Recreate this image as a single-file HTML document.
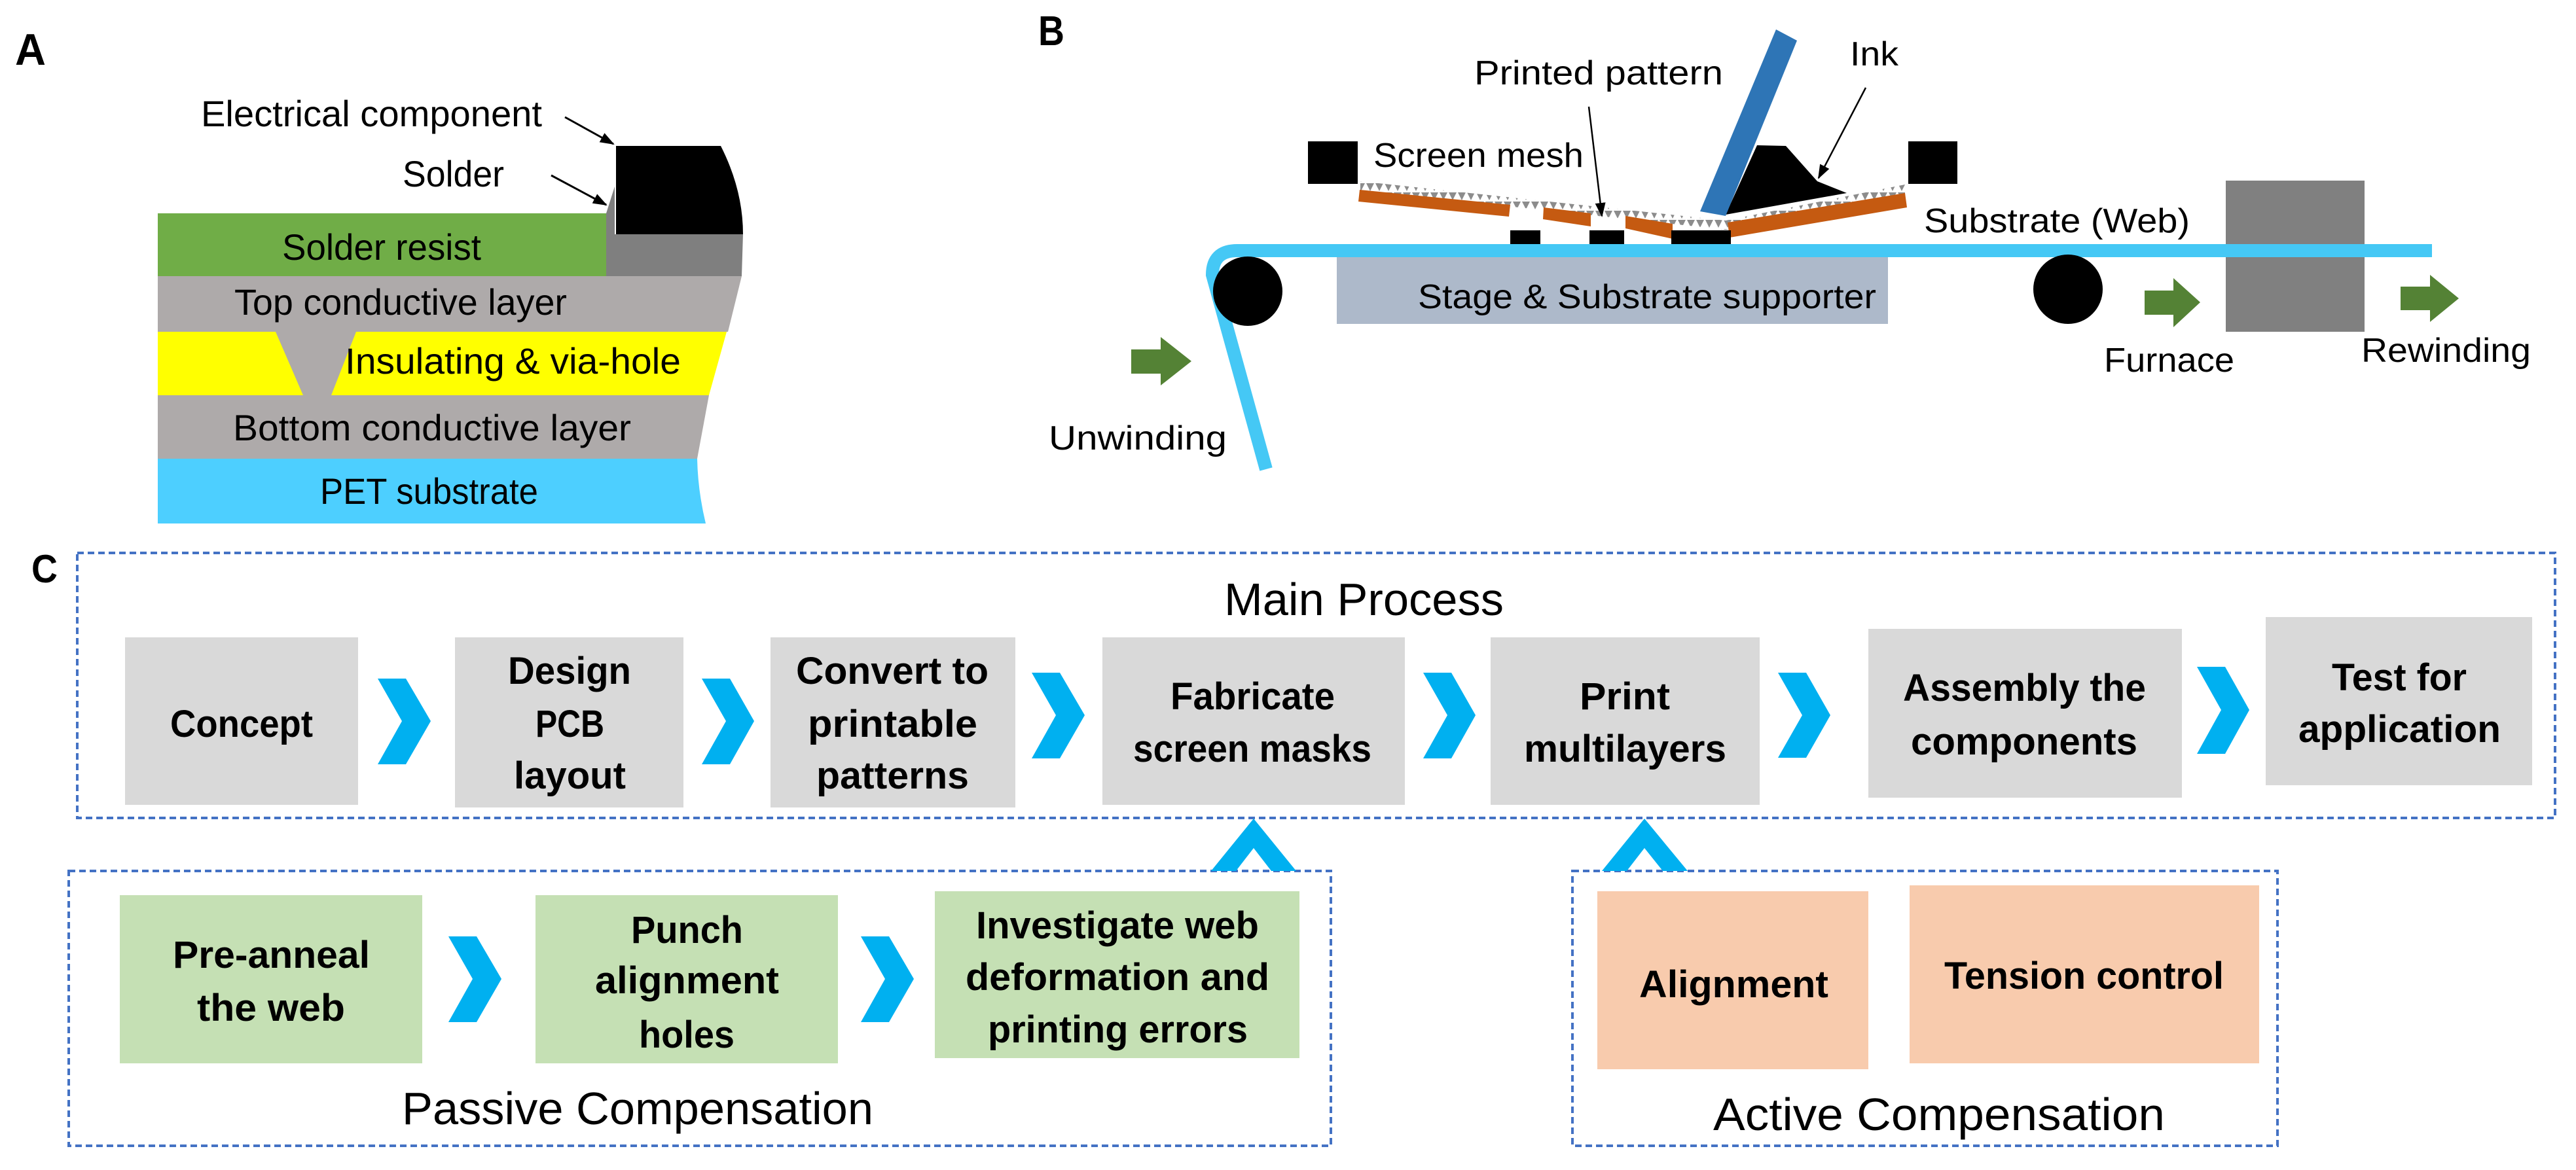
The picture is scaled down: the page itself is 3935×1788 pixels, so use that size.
<!DOCTYPE html>
<html><head><meta charset="utf-8"><style>html,body{margin:0;padding:0;background:#fff}svg{display:block}text{font-family:"Liberation Sans",sans-serif}</style></head><body>
<svg width="3935" height="1788" viewBox="0 0 3935 1788" xmlns="http://www.w3.org/2000/svg">
<defs>
<marker id="ah2" markerWidth="22" markerHeight="22" refX="20" refY="11" orient="auto" markerUnits="userSpaceOnUse"><path d="M0,3 L22,11 L0,19 Z" fill="#000"/></marker>
<pattern id="mesh" x="0" y="0" width="14" height="14" patternUnits="userSpaceOnUse"><path d="M1,0 L13,0 L7,12 Z" fill="#8c8c8c"/></pattern>
</defs>
<rect width="3935" height="1788" fill="#fff"/>

<g lengthAdjust="spacingAndGlyphs">
<!-- Panel A -->
<text x="23" y="99" font-size="68" font-weight="bold" textLength="47" lengthAdjust="spacingAndGlyphs">A</text>
<polygon points="241,326 926,326 926,422 241,422" fill="#70ad47"/>
<polygon points="926,422 926,326 939,285 939,358 1135,358 1133,422" fill="#7f7f7f"/>
<path d="M941,223 L1101,223 Q1135,290 1135,358 L941,358 Z" fill="#000"/>
<polygon points="241,422 1133,422 1112,507 241,507" fill="#aeaaaa"/>
<polygon points="241,507 1110,507 1083,604 241,604" fill="#ffff00"/>
<polygon points="421,507 544,507 506,604 463,604" fill="#aeaaaa"/>
<polygon points="241,604 1083,604 1065,701 241,701" fill="#aeaaaa"/>
<path d="M241,701 L1065,701 Q1066,750 1078,800 L241,800 Z" fill="#4dcfff"/>
<text x="307" y="193" font-size="56" textLength="521" lengthAdjust="spacingAndGlyphs">Electrical component</text>
<text x="615" y="285" font-size="56" textLength="155" lengthAdjust="spacingAndGlyphs">Solder</text>
<line x1="863" y1="179" x2="937" y2="220" stroke="#000" stroke-width="3" marker-end="url(#ah2)"/>
<line x1="842" y1="268" x2="926" y2="313" stroke="#000" stroke-width="3" marker-end="url(#ah2)"/>
<text x="431" y="397" font-size="56" textLength="304" lengthAdjust="spacingAndGlyphs">Solder resist</text>
<text x="358" y="481" font-size="56" textLength="508" lengthAdjust="spacingAndGlyphs">Top conductive layer</text>
<text x="527" y="571" font-size="56" textLength="513" lengthAdjust="spacingAndGlyphs">Insulating &amp; via-hole</text>
<text x="356" y="673" font-size="56" textLength="608" lengthAdjust="spacingAndGlyphs">Bottom conductive layer</text>
<text x="489" y="770" font-size="56" textLength="333" lengthAdjust="spacingAndGlyphs">PET substrate</text>

<!-- Panel B -->
<text x="1586" y="69" font-size="64" font-weight="bold" textLength="40" lengthAdjust="spacingAndGlyphs">B</text>
<rect x="2042" y="393" width="842" height="102" fill="#adb9ca"/>
<text x="2166" y="471" font-size="52" textLength="700" lengthAdjust="spacingAndGlyphs">Stage &amp; Substrate supporter</text>
<rect x="3400" y="276" width="212" height="231" fill="#808080"/>
<path d="M3715,383 L1890,383 Q1852,383 1852,420 L1934,717" fill="none" stroke="#45c8f5" stroke-width="20"/>
<circle cx="1906" cy="445" r="53" fill="#000"/>
<circle cx="3159" cy="442" r="53" fill="#000"/>
<polygon points="3276,444 3320,444 3320,425 3361,462 3320,500 3320,481 3276,481" fill="#548235"/>
<polygon points="3667,438 3712,438 3712,420 3756,456 3712,492 3712,474 3667,474" fill="#548235"/>
<polygon points="1728,534 1773,534 1773,515 1820,552 1773,589 1773,571 1728,571" fill="#548235"/>
<rect x="1998" y="216" width="76" height="65" fill="#000"/>
<rect x="2915" y="216" width="75" height="65" fill="#000"/>
<polygon points="2078,277 2636,337 2910,282 2910,296 2636,351 2078,291" fill="url(#mesh)"/>
<polygon points="2077,290 2307,313 2305,331 2075,308" fill="#c55a11"/>
<polygon points="2358,317 2430,326 2430,346 2357,335" fill="#c55a11"/>
<polygon points="2483,330 2555,342 2555,365 2483,349" fill="#c55a11"/>
<polygon points="2639,340 2910,295 2913,317 2642,363" fill="#c55a11"/>
<rect x="2307" y="352" width="46" height="21" fill="#000"/>
<rect x="2428" y="352" width="53" height="21" fill="#000"/>
<rect x="2553" y="352" width="91" height="21" fill="#000"/>
<polygon points="2684,222 2728,223 2776,277 2821,295 2636,328" fill="#000"/>
<polygon points="2713,45 2745,62 2636,330 2597,323" fill="#2e75b6"/>
<line x1="2427" y1="163" x2="2447" y2="330" stroke="#000" stroke-width="2.5" marker-end="url(#ah2)"/>
<line x1="2850" y1="134" x2="2778" y2="272" stroke="#000" stroke-width="2.5" marker-end="url(#ah2)"/>
<text x="2252" y="129" font-size="52" textLength="380" lengthAdjust="spacingAndGlyphs">Printed pattern</text>
<text x="2826" y="100" font-size="52" textLength="74" lengthAdjust="spacingAndGlyphs">Ink</text>
<text x="2098" y="255" font-size="52" textLength="321" lengthAdjust="spacingAndGlyphs">Screen mesh</text>
<text x="2939" y="355" font-size="52" textLength="406" lengthAdjust="spacingAndGlyphs">Substrate (Web)</text>
<text x="3214" y="568" font-size="52" textLength="199" lengthAdjust="spacingAndGlyphs">Furnace</text>
<text x="3607" y="553" font-size="52" textLength="259" lengthAdjust="spacingAndGlyphs">Rewinding</text>
<text x="1602" y="687" font-size="52" textLength="272" lengthAdjust="spacingAndGlyphs">Unwinding</text>
</g>

<!-- Panel C -->
<text x="48" y="890" font-size="60" font-weight="bold" textLength="40" lengthAdjust="spacingAndGlyphs">C</text>
<g fill="none" stroke="#4472c4" stroke-width="4" stroke-dasharray="10,6">
<rect x="118" y="845" width="3785" height="405"/>
<rect x="105" y="1331" width="1928" height="420"/>
<rect x="2402" y="1331" width="1077" height="420"/>
</g>
<text x="1870" y="940" font-size="70" textLength="427" lengthAdjust="spacingAndGlyphs">Main Process</text>
<g fill="#d9d9d9">
<rect x="191" y="974" width="356" height="256"/>
<rect x="695" y="974" width="349" height="260"/>
<rect x="1177" y="974" width="374" height="260"/>
<rect x="1684" y="974" width="462" height="256"/>
<rect x="2277" y="974" width="411" height="256"/>
<rect x="2854" y="961" width="479" height="258"/>
<rect x="3461" y="943" width="407" height="257"/>
</g>
<g fill="#c5e0b4">
<rect x="183" y="1368" width="462" height="257"/>
<rect x="818" y="1368" width="462" height="257"/>
<rect x="1428" y="1362" width="557" height="255"/>
</g>
<g fill="#f8cbad">
<rect x="2440" y="1362" width="414" height="272"/>
<rect x="2917" y="1353" width="534" height="272"/>
</g>
<g fill="#00b0f0">
<polygon points="577,1037 620,1037 658,1102 620,1168 577,1168 614,1102"/>
<polygon points="1072,1037 1115,1037 1152,1102 1115,1168 1072,1168 1109,1102"/>
<polygon points="1576,1028 1619,1028 1657,1093 1619,1159 1576,1159 1613,1093"/>
<polygon points="2174,1028 2217,1028 2254,1093 2217,1159 2174,1159 2211,1093"/>
<polygon points="2716,1028 2759,1028 2796,1093 2759,1158 2716,1158 2753,1093"/>
<polygon points="3356,1019 3399,1019 3436,1085 3399,1152 3356,1152 3393,1085"/>
<polygon points="685,1431 728,1431 766,1496 728,1562 685,1562 722,1496"/>
<polygon points="1315,1431 1358,1431 1396,1496 1358,1562 1315,1562 1352,1496"/>
<polygon points="1850,1331 1915,1251 1980,1331 1942,1331 1915,1296 1888,1331"/>
<polygon points="2447,1331 2512,1251 2578,1331 2540,1331 2512,1296 2485,1331"/>
</g>
<g font-size="58" font-weight="bold" fill="#000">
<text x="260" y="1126" textLength="218" lengthAdjust="spacingAndGlyphs">Concept</text>
<text x="776" y="1045" textLength="188" lengthAdjust="spacingAndGlyphs">Design</text>
<text x="818" y="1126" textLength="105" lengthAdjust="spacingAndGlyphs">PCB</text>
<text x="785" y="1205" textLength="171" lengthAdjust="spacingAndGlyphs">layout</text>
<text x="1216" y="1045" textLength="294" lengthAdjust="spacingAndGlyphs">Convert to</text>
<text x="1234" y="1126" textLength="259" lengthAdjust="spacingAndGlyphs">printable</text>
<text x="1247" y="1205" textLength="233" lengthAdjust="spacingAndGlyphs">patterns</text>
<text x="1788" y="1084" textLength="251" lengthAdjust="spacingAndGlyphs">Fabricate</text>
<text x="1731" y="1164" textLength="364" lengthAdjust="spacingAndGlyphs">screen masks</text>
<text x="2413" y="1084" textLength="138" lengthAdjust="spacingAndGlyphs">Print</text>
<text x="2328" y="1164" textLength="309" lengthAdjust="spacingAndGlyphs">multilayers</text>
<text x="2907" y="1071" textLength="371" lengthAdjust="spacingAndGlyphs">Assembly the</text>
<text x="2919" y="1153" textLength="346" lengthAdjust="spacingAndGlyphs">components</text>
<text x="3562" y="1055" textLength="206" lengthAdjust="spacingAndGlyphs">Test for</text>
<text x="3511" y="1134" textLength="309" lengthAdjust="spacingAndGlyphs">application</text>
<text x="264" y="1479" textLength="301" lengthAdjust="spacingAndGlyphs">Pre-anneal</text>
<text x="301" y="1560" textLength="226" lengthAdjust="spacingAndGlyphs">the web</text>
<text x="964" y="1441" textLength="171" lengthAdjust="spacingAndGlyphs">Punch</text>
<text x="909" y="1518" textLength="281" lengthAdjust="spacingAndGlyphs">alignment</text>
<text x="976" y="1601" textLength="146" lengthAdjust="spacingAndGlyphs">holes</text>
<text x="1491" y="1434" textLength="432" lengthAdjust="spacingAndGlyphs">Investigate web</text>
<text x="1475" y="1513" textLength="464" lengthAdjust="spacingAndGlyphs">deformation and</text>
<text x="1509" y="1593" textLength="397" lengthAdjust="spacingAndGlyphs">printing errors</text>
<text x="2504" y="1524" textLength="289" lengthAdjust="spacingAndGlyphs">Alignment</text>
<text x="2970" y="1511" textLength="427" lengthAdjust="spacingAndGlyphs">Tension control</text>
</g>
<text x="614" y="1718" font-size="70" textLength="720" lengthAdjust="spacingAndGlyphs">Passive Compensation</text>
<text x="2617" y="1727" font-size="70" textLength="690" lengthAdjust="spacingAndGlyphs">Active Compensation</text>
</svg>
</body></html>
